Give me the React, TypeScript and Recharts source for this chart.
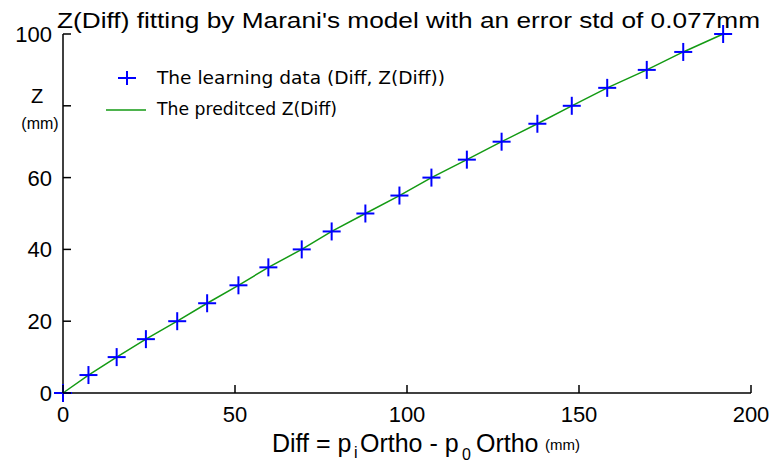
import React from 'react'
import { ComposedChart, Scatter, Line, XAxis, YAxis, Legend } from 'recharts'

// learning data (mm)
const diffs = [0, 7.4, 15.6, 24.1, 33.2, 41.9, 51.0, 59.7, 69.4, 78.1, 87.9, 97.8, 107.1, 117.4, 127.5, 137.9, 147.9, 158.2, 169.7, 180.3, 191.9]
const zValues = [0, 5, 10, 15, 20, 25, 30, 35, 40, 45, 50, 55, 60, 65, 70, 75, 80, 85, 90, 95, 100]
const predictedZ = [0, 5, 10, 15, 20, 25, 30, 35, 40, 45, 50, 55, 60, 65, 70, 75, 80, 85, 90, 95, 100]

const xTicks = [0, 50, 100, 150, 200]
const yTicks = [0, 20, 40, 60, 80, 100]
const hiddenYLabels = [80]

const rows = diffs.map((d, i) => ({ diff: d, z: zValues[i], pred: predictedZ[i] }))

const BLUE = '#0000ff'
const GREEN = '#139a13'
const FONT = '"Liberation Sans", Arial, sans-serif'
const LEGEND_FONT = '"DejaVu Sans", Verdana, sans-serif'
const TICK = 8

// eslint-disable-next-line @typescript-eslint/no-explicit-any
const Plus = ({ cx, cy }: any) => (
  <g>
    <line x1={cx - 9} x2={cx + 9} y1={cy} y2={cy} stroke={BLUE} strokeWidth={2} />
    <line x1={cx} x2={cx} y1={cy - 9} y2={cy + 9} stroke={BLUE} strokeWidth={2} />
  </g>
)

// MATLAB-style ticks pointing into the box
// eslint-disable-next-line @typescript-eslint/no-explicit-any
const BottomTick = ({ x, y, payload }: any) => (
  <g>
    <line x1={x} x2={x} y1={y} y2={y - TICK} stroke="#000" strokeWidth={1.5} />
    <text x={x} y={y + 29} textAnchor="middle" fontSize={22} fontFamily={FONT} fill="#000">
      {payload.value}
    </text>
  </g>
)

// eslint-disable-next-line @typescript-eslint/no-explicit-any
const TopTick = ({ x, y }: any) => (
  <line x1={x} x2={x} y1={y} y2={y + TICK} stroke="#000" strokeWidth={1.5} />
)

// eslint-disable-next-line @typescript-eslint/no-explicit-any
const LeftTick = ({ x, y, payload }: any) => (
  <g>
    <line x1={x} x2={x + TICK} y1={y} y2={y} stroke="#000" strokeWidth={1.5} />
    {!hiddenYLabels.includes(payload.value) && (
      <text x={x - 11} y={y + 8} textAnchor="end" fontSize={22} fontFamily={FONT} fill="#000">
        {payload.value}
      </text>
    )}
  </g>
)

// eslint-disable-next-line @typescript-eslint/no-explicit-any
const RightTick = ({ x, y }: any) => (
  <line x1={x} x2={x - TICK} y1={y} y2={y} stroke="#000" strokeWidth={1.5} />
)

const LegendBox = () => (
  <svg width={360} height={60}>
    <line x1={18} x2={36} y1={16} y2={16} stroke={BLUE} strokeWidth={2} />
    <line x1={27} x2={27} y1={9} y2={23} stroke={BLUE} strokeWidth={2} />
    <text x={57} y={22} fontSize={17} fontFamily={LEGEND_FONT} textLength={288} lengthAdjust="spacingAndGlyphs">
      The learning data (Diff, Z(Diff))
    </text>
    <line x1={6} x2={46} y1={48} y2={48} stroke={GREEN} strokeWidth={1.5} />
    <text x={57} y={53} fontSize={17} fontFamily={LEGEND_FONT} textLength={180} lengthAdjust="spacingAndGlyphs">
      The preditced Z(Diff)
    </text>
  </svg>
)

export default function App() {
  return (
    <div style={{ position: 'absolute', left: 0, top: 0, width: 772, height: 469, background: '#fff' }}>
      <ComposedChart
        width={772}
        height={469}
        data={rows}
        margin={{ top: 34, right: 21, bottom: 0, left: 0 }}
      >
        <XAxis
          dataKey="diff"
          type="number"
          domain={[0, 200]}
          ticks={xTicks}
          height={76}
          tickSize={0}
          tickMargin={0}
          tick={<BottomTick />}
          tickLine={false}
          axisLine={{ stroke: '#000', strokeWidth: 1.5 }}
        />
        <XAxis
          xAxisId="top"
          orientation="top"
          dataKey="diff"
          type="number"
          domain={[0, 200]}
          ticks={xTicks}
          height={0}
          tickSize={0}
          tickMargin={0}
          tick={<TopTick />}
          tickLine={false}
          axisLine={{ stroke: '#000', strokeWidth: 1.5 }}
        />
        <YAxis
          type="number"
          domain={[0, 100]}
          ticks={yTicks}
          width={63}
          tickSize={0}
          tickMargin={0}
          tick={<LeftTick />}
          tickLine={false}
          axisLine={{ stroke: '#000', strokeWidth: 1.5 }}
        />
        <YAxis
          yAxisId="right"
          orientation="right"
          type="number"
          domain={[0, 100]}
          ticks={yTicks}
          width={0}
          tickSize={0}
          tickMargin={0}
          tick={<RightTick />}
          tickLine={false}
          axisLine={{ stroke: '#000', strokeWidth: 1.5 }}
        />
        <Scatter
          name="The learning data (Diff, Z(Diff))"
          data={rows}
          dataKey="z"
          shape={<Plus />}
          isAnimationActive={false}
        />
        <Line
          name="The preditced Z(Diff)"
          xAxisId="top"
          yAxisId="right"
          dataKey="pred"
          stroke={GREEN}
          strokeWidth={1.5}
          dot={false}
          activeDot={false}
          isAnimationActive={false}
        />
        <Legend
          layout="vertical"
          align="center"
          verticalAlign="middle"
          content={<LegendBox />}
          wrapperStyle={{ left: 100, top: 62, width: 360, height: 60 }}
        />
      </ComposedChart>
      <svg
        width={772}
        height={469}
        style={{ position: 'absolute', left: 0, top: 0, pointerEvents: 'none' }}
      >
        <text x={57} y={28} fontSize={22} fontFamily={FONT} textLength={703} lengthAdjust="spacingAndGlyphs">
          Z(Diff) fitting by Marani's model with an error std of 0.077mm
        </text>
        <text x={37} y={103} fontSize={20} fontFamily={FONT} textAnchor="middle">Z</text>
        <text x={40} y={129} fontSize={16} fontFamily={FONT} textAnchor="middle">(mm)</text>
        <text y={452} fontSize={25} fontFamily={FONT}>
          <tspan x={272}>Diff = p</tspan>
          <tspan x={354} dy={6} fontSize={16}>i</tspan>
          <tspan x={360} dy={-6}>Ortho - p</tspan>
          <tspan x={462} dy={8} fontSize={16}>0</tspan>
          <tspan x={476} dy={-8}>Ortho</tspan>
          <tspan x={545} dy={-2} fontSize={15}>(mm)</tspan>
        </text>
      </svg>
    </div>
  )
}
